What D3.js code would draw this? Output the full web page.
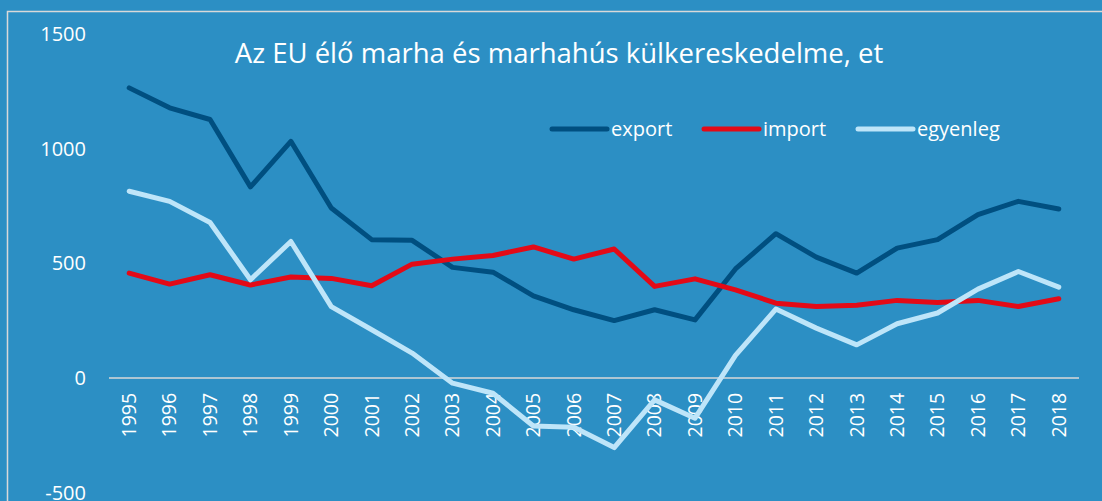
<!DOCTYPE html>
<html lang="hu">
<head>
<meta charset="UTF-8">
<title>Az EU élő marha és marhahús külkereskedelme</title>
<script src="https://cdn.jsdelivr.net/npm/d3@7"></script>
<style>
  html, body { margin: 0; padding: 0; background: #2C8FC4; }
  svg { display: block; font-family: "Open Sans", Lato, sans-serif; }
</style>
</head>
<body>
<div id="chart"></div>
<script>
// data (ezer tonna)
const years = d3.range(1995, 2019).map(String);
const exportVals = [1265, 1178, 1127, 833, 1032, 741, 603, 600, 482, 461, 358, 297, 250, 297, 253, 475, 629, 527, 457, 566, 603, 712, 770, 737];
const importVals = [457, 409, 450, 405, 440, 434, 402, 496, 518, 534, 571, 518, 562, 399, 432, 384, 326, 311, 317, 338, 329, 338, 311, 345];
const balanceVals = [814, 770, 678, 428, 595, 311, 210, 108, -23, -67, -210, -215, -304, -96, -176, 98, 300, 217, 144, 236, 283, 387, 464, 396];
const yTicks = [-500, 0, 500, 1000, 1500];

const series = [
  { name: "export", values: exportVals, color: "#004F80" },
  { name: "import", values: importVals, color: "#E30A17" },
  { name: "egyenleg", values: balanceVals, color: "#BEE5F9" }
];

const width = 1102, height = 501;

const svg = d3.select("#chart").append("svg")
    .attr("width", width)
    .attr("height", height);

svg.append("rect")
    .attr("width", width).attr("height", height)
    .attr("fill", "#2C8FC4");

// chart border
svg.append("rect")
    .attr("x", 7.5).attr("y", 11.5)
    .attr("width", width + 20).attr("height", height + 20)
    .attr("fill", "none")
    .attr("stroke", "#D9D9D9")
    .attr("stroke-width", 1.5);

const x = d3.scaleBand()
    .domain(years)
    .range([109, 1079])
    .paddingInner(0);

const y = d3.scaleLinear()
    .domain([-500, 1500])
    .range([492.5, 34]);

const cx = d => x(d) + x.bandwidth() / 2;

// y axis labels
svg.append("g")
    .selectAll("text")
    .data(yTicks)
    .join("text")
    .attr("x", 86)
    .attr("y", d => y(d))
    .attr("dy", "0.35em")
    .attr("text-anchor", "end")
    .attr("fill", "#fff")
    .attr("font-size", 20)
    .text(d => d);

// x axis line at 0
svg.append("line")
    .attr("x1", x.range()[0]).attr("x2", x.range()[1])
    .attr("y1", y(0)).attr("y2", y(0))
    .attr("stroke", "#D9D9D9")
    .attr("stroke-width", 1.5);

// year labels
svg.append("g")
    .selectAll("text")
    .data(years)
    .join("text")
    .attr("transform", d => `translate(${cx(d)},${y(0) + 15}) rotate(-90)`)
    .attr("text-anchor", "end")
    .attr("dy", "0.35em")
    .attr("fill", "#fff")
    .attr("font-size", 19.5)
    .text(d => d);

// lines
const line = d3.line()
    .x((v, i) => cx(years[i]))
    .y(v => y(v));

svg.append("g")
    .selectAll("path")
    .data(series)
    .join("path")
    .attr("d", s => line(s.values))
    .attr("fill", "none")
    .attr("stroke", s => s.color)
    .attr("stroke-width", 5)
    .attr("stroke-linejoin", "round")
    .attr("stroke-linecap", "round");

// title
svg.append("text")
    .attr("x", 559)
    .attr("y", 63)
    .attr("text-anchor", "middle")
    .attr("fill", "#fff")
    .attr("font-size", 27.5)
    .text("Az EU élő marha és marhahús külkereskedelme, et");

// legend
const legendX = [552, 704, 858];
const legend = svg.append("g")
    .selectAll("g")
    .data(series)
    .join("g")
    .attr("transform", (s, i) => `translate(${legendX[i]},129)`);

legend.append("line")
    .attr("x1", 0).attr("x2", 55)
    .attr("stroke", s => s.color)
    .attr("stroke-width", 5)
    .attr("stroke-linecap", "round");

legend.append("text")
    .attr("x", 59)
    .attr("dy", "0.35em")
    .attr("fill", "#fff")
    .attr("font-size", 20)
    .text(s => s.name);
</script>
</body>
</html>
